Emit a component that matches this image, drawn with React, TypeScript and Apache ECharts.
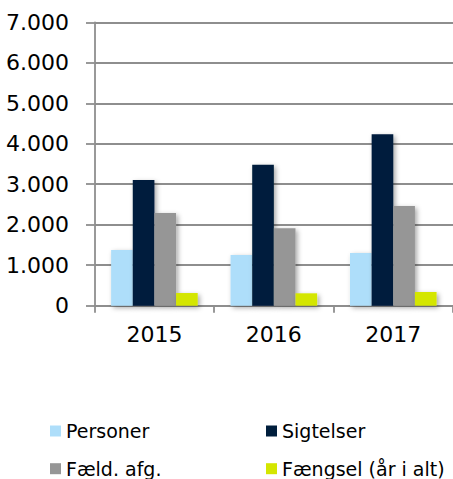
import React, { useEffect, useRef } from "react";
import * as echarts from "echarts";

const categories = ["2015", "2016", "2017"];
const personer = [1375, 1252, 1301];
const sigtelser = [3104, 3481, 4232];
const faeldAfg = [2289, 1911, 2462];
const faengsel = [313, 306, 338];
const yTickLabels = ["0", "1.000", "2.000", "3.000", "4.000", "5.000", "6.000", "7.000"];
const seriesNames = ["Personer", "Sigtelser", "Fæld. afg.", "Fængsel (år i alt)"];
const colors = ["#AEDEFA", "#001E3C", "#969696", "#D4E600"];

const FONT = "DejaVu Sans";
const GRID_COLOR = "#8e8e8e";

export default function App() {
  const ref = useRef<HTMLDivElement>(null);
  useEffect(() => {
    if (!ref.current) return;
    const chart = echarts.init(ref.current, undefined, { renderer: "svg" });
    const data = [personer, sigtelser, faeldAfg, faengsel];
    const legendBase = {
      orient: "vertical",
      top: 421,
      height: 80,
      icon: "rect",
      itemWidth: 11,
      itemHeight: 11,
      itemGap: 17.7,
      padding: 0,
      textStyle: { fontFamily: FONT, fontSize: 19, color: "#000", lineHeight: 20 },
    };
    chart.setOption({
      animation: false,
      grid: { left: 94.7, right: -2, top: 22.3, bottom: 173.3, containLabel: false },
      legend: [
        { ...legendBase, data: [seriesNames[0], seriesNames[2]], left: 50 },
        { ...legendBase, data: [seriesNames[1], seriesNames[3]], left: 266 },
      ],
      xAxis: {
        type: "category",
        data: categories,
        axisLine: { show: true, lineStyle: { color: GRID_COLOR, width: 1.8 } },
        axisTick: { show: true, length: 7, lineStyle: { color: GRID_COLOR, width: 1.8 } },
        axisLabel: { fontFamily: FONT, fontSize: 22, color: "#000", margin: 17.5 },
      },
      yAxis: {
        type: "value",
        min: 0,
        max: 7000,
        interval: 1000,
        axisLine: { show: true, lineStyle: { color: GRID_COLOR, width: 1.8 } },
        axisTick: { show: true, length: 8.7, lineStyle: { color: GRID_COLOR, width: 1.8 } },
        splitLine: { show: true, lineStyle: { color: GRID_COLOR, width: 1.8 } },
        axisLabel: {
          fontFamily: FONT,
          fontSize: 22,
          color: "#000",
          margin: 25.7,
          formatter: (v: number) => yTickLabels[Math.round(v / 1000)] ?? String(v),
        },
      },
      series: data.map((d, i) => ({
        name: seriesNames[i],
        type: "bar",
        data: d,
        barGap: "0%",
        barCategoryGap: "27.5%",
        itemStyle: {
          color: colors[i],
          shadowColor: "rgba(0,0,0,0.35)",
          shadowBlur: 5,
          shadowOffsetX: 2,
          shadowOffsetY: 2,
        },
      })),
    });
    return () => chart.dispose();
  }, []);
  return (
    <div
      ref={ref}
      style={{ position: "fixed", left: 0, top: 0, width: 453, height: 479, background: "#fff" }}
    />
  );
}
